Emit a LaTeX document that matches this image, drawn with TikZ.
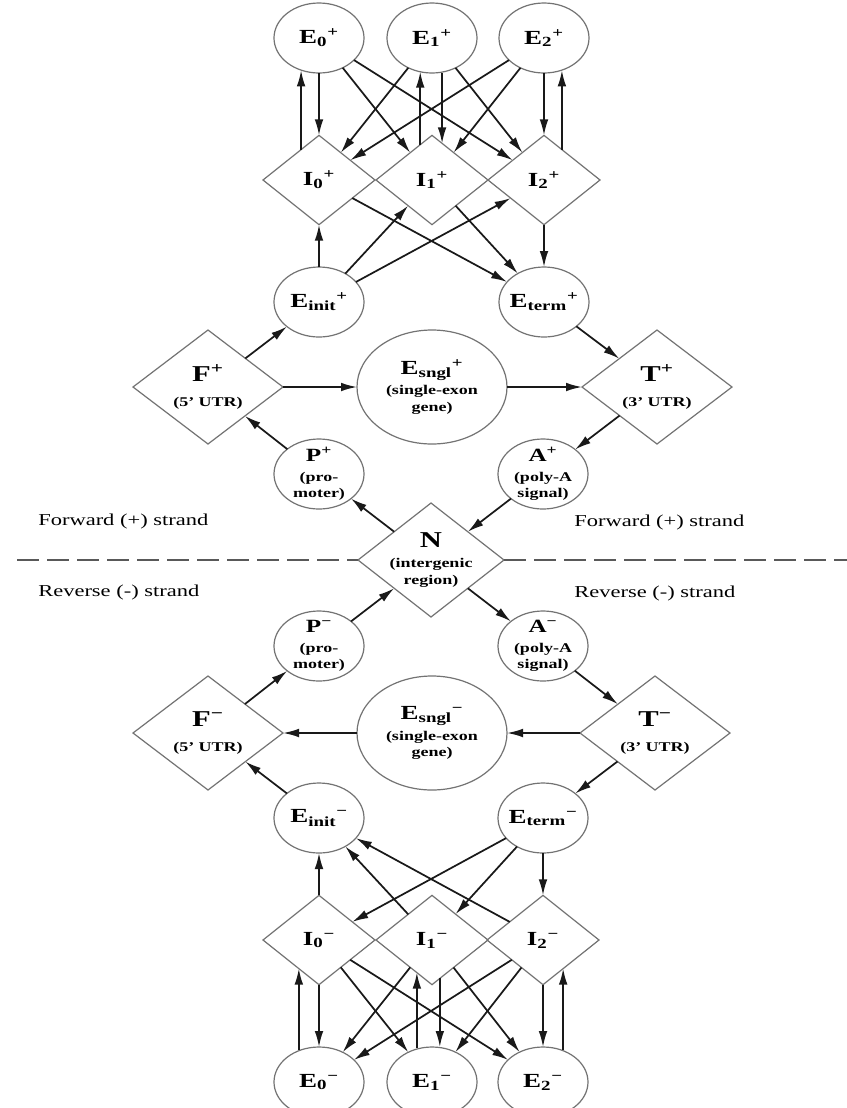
\documentclass[tikz,border=0pt]{standalone}
\usepackage{fontspec}
\setmainfont[FakeStretch=1.35]{Liberation Serif}
\usetikzlibrary{shapes.geometric,arrows.meta,calc}
\newcommand\mn{\textsuperscript{−}}
\newcommand\pl{\textsuperscript{+}}
\newcommand\hd[1]{{\fontsize{15}{15}\selectfont #1}}
\newcommand\hdb[1]{{\fontsize{17}{17}\selectfont #1}}
\newcommand\hdp[1]{{\fontsize{14}{14}\selectfont #1}}
\begin{document}
\begin{tikzpicture}[x=0.75pt,y=-0.75pt,
  shp/.style={draw=black!55, line width=0.9pt, inner sep=0pt, outer sep=0pt},
  enode/.style={shp, ellipse, minimum width=67.5pt, minimum height=52.5pt},
  inode/.style={shp, diamond, minimum width=84pt, minimum height=67pt},
  utrnode/.style={shp, diamond, minimum width=112.5pt, minimum height=85.5pt},
  nnode/.style={shp, diamond, minimum width=109.5pt, minimum height=85.5pt},
  snode/.style={shp, ellipse, minimum width=112.5pt, minimum height=85.5pt},
  lbl/.style={align=center, inner sep=0pt, font=\fontsize{10}{12.5}\selectfont\bfseries},
  arr/.style={-{Latex[length=12pt,width=6.5pt]}, line width=1.3pt, black!90},
  strand/.style={anchor=west, inner sep=0pt, font=\fontsize{12.5}{14}\selectfont},
  dline/.style={draw=black!65, line width=0.8pt, dash pattern=on 16.5pt off 6pt}
]
\useasboundingbox (0,0) rectangle (847,1108);
\fill[white] (0,0) rectangle (847,1108);
\clip (0,0) rectangle (847,1108);

% ---------- forward strand ----------
\node[enode] (E0p) at (319,38) {};
\node[enode] (E1p) at (432,38) {};
\node[enode] (E2p) at (544,38) {};
\node[inode] (I0p) at (319,180) {};
\node[inode] (I1p) at (432,180) {};
\node[inode] (I2p) at (544,180) {};
\node[enode] (Einitp) at (319,302) {};
\node[enode] (Etermp) at (544,302) {};
\node[utrnode] (Fp) at (208,387) {};
\node[snode] (Sp) at (432,387) {};
\node[utrnode] (Tp) at (657,387) {};
\node[enode] (Pp) at (319,474) {};
\node[enode] (Ap) at (543,474) {};
\node[nnode] (N) at (431,560) {};

% ---------- reverse strand ----------
\node[enode] (Pm) at (319,646) {};
\node[enode] (Am) at (543,646) {};
\node[utrnode] (Fm) at (208,733) {};
\node[snode] (Sm) at (432,733) {};
\node[utrnode] (Tm) at (655,733) {};
\node[enode] (Einitm) at (319,818) {};
\node[enode] (Etermm) at (543,818) {};
\node[inode] (I0m) at (319,940) {};
\node[inode] (I1m) at (432,940) {};
\node[inode] (I2m) at (543,940) {};
\node[enode] (E0m) at (319,1082) {};
\node[enode] (E1m) at (432,1082) {};
\node[enode] (E2m) at (543,1082) {};

% ---------- labels ----------
\node[lbl] (E0pt) at (E0p) {\hd{E\textsubscript{0}\pl}};
\node[lbl] (E1pt) at (E1p) {\hd{E\textsubscript{1}\pl}};
\node[lbl] (E2pt) at (E2p) {\hd{E\textsubscript{2}\pl}};
\node[lbl] (I0pt) at (I0p) {\hd{I\textsubscript{0}\pl}};
\node[lbl] (I1pt) at (I1p) {\hd{I\textsubscript{1}\pl}};
\node[lbl] (I2pt) at (I2p) {\hd{I\textsubscript{2}\pl}};
\node[lbl] (Einitpt) at (Einitp) {\hd{E\textsubscript{init}\pl}};
\node[lbl] (Etermpt) at (Etermp) {\hd{E\textsubscript{term}\pl}};
\node[lbl] (Fpt) at (Fp) {\hdb{F\pl}\\[6pt](5' UTR)};
\node[lbl] (Tpt) at (Tp) {\hdb{T\pl}\\[6pt](3' UTR)};
\node[lbl] (Spt) at (Sp) {\hd{E\textsubscript{sngl}\pl}\\[3pt](single-exon\\gene)};
\node[lbl] (Ppt) at (Pp) {\hdp{P\pl}\\[2pt](pro-\\moter)};
\node[lbl] (Apt) at (Ap) {\hdp{A\pl}\\[2pt](poly-A\\signal)};
\node[lbl] (Nt) at (N) {\hdb{N}\\[3pt](intergenic\\region)};
\node[lbl] (Pmt) at (Pm) {\hdp{P\mn}\\[2pt](pro-\\moter)};
\node[lbl] (Amt) at (Am) {\hdp{A\mn}\\[2pt](poly-A\\signal)};
\node[lbl] (Fmt) at (Fm) {\hdb{F\mn}\\[6pt](5' UTR)};
\node[lbl] (Tmt) at (Tm) {\hdb{T\mn}\\[6pt](3' UTR)};
\node[lbl] (Smt) at (Sm) {\hd{E\textsubscript{sngl}\mn}\\[3pt](single-exon\\gene)};
\node[lbl] (Einitmt) at (Einitm) {\hd{E\textsubscript{init}\mn}};
\node[lbl] (Etermmt) at (Etermm) {\hd{E\textsubscript{term}\mn}};
\node[lbl] (I0mt) at (I0m) {\hd{I\textsubscript{0}\mn}};
\node[lbl] (I1mt) at (I1m) {\hd{I\textsubscript{1}\mn}};
\node[lbl] (I2mt) at (I2m) {\hd{I\textsubscript{2}\mn}};
\node[lbl] (E0mt) at (E0m) {\hd{E\textsubscript{0}\mn}};
\node[lbl] (E1mt) at (E1m) {\hd{E\textsubscript{1}\mn}};
\node[lbl] (E2mt) at (E2m) {\hd{E\textsubscript{2}\mn}};

% strand labels
\node[strand] (fwl) at (38,521) {Forward (+) strand};
\node[strand] (fwr) at (574,522) {Forward (+) strand};
\node[strand] (rvl) at (38,592) {Reverse (-) strand};
\node[strand] (rvr) at (574,593) {Reverse (-) strand};

% dashed separator
\coordinate (dl) at (17,560);
\coordinate (dr) at (847,560);
\draw[dline] (dl) -- (N.west);
\draw[dline] (N.east) -- (dr);

% ---------- forward connectors ----------
\draw[arr] (E0p) -- (I0p);
\coordinate (u0p) at ($(I0p.north)!0.32!(I0p.west)$);
\draw[arr, shorten >=-2pt] (u0p) -- (u0p |- E0p.south);
\coordinate (d1p) at ($(I1p.north)!0.18!(I1p.east)$);
\draw[arr] (d1p |- E1p.south) -- (d1p);
\coordinate (u1p) at ($(I1p.north)!0.21!(I1p.west)$);
\draw[arr, shorten >=-1pt] (u1p) -- (u1p |- E1p.south);
\draw[arr] (E2p) -- (I2p);
\coordinate (u2p) at ($(I2p.north)!0.32!(I2p.east)$);
\draw[arr, shorten >=-2pt] (u2p) -- (u2p |- E2p.south);
\foreach \a/\b in {E0p/I1p, E0p/I2p, E1p/I0p, E1p/I2p, E2p/I0p, E2p/I1p}
  \draw[arr] (\a) -- (\b);
\foreach \b in {I0p, I1p, I2p}
  \draw[arr] (Einitp) -- (\b);
\foreach \a in {I0p, I1p, I2p}
  \draw[arr] (\a) -- (Etermp);
\draw[arr] (Fp) -- (Einitp);
\draw[arr] (Fp) -- (Sp);
\draw[arr] (Sp) -- (Tp);
\draw[arr] (Etermp) -- (Tp);
\draw[arr] (Tp) -- (Ap);
\draw[arr] (Ap) -- (N);
\draw[arr] (N) -- (Pp);
\draw[arr] (Pp) -- (Fp);

% ---------- reverse connectors ----------
\draw[arr] (Pm) -- (N);
\draw[arr] (N) -- (Am);
\draw[arr] (Am) -- (Tm);
\draw[arr] (Tm) -- (Sm);
\draw[arr] (Sm) -- (Fm);
\draw[arr] (Tm) -- (Etermm);
\draw[arr] (Einitm) -- (Fm);
\draw[arr] (Fm) -- (Pm);
\foreach \a in {I0m, I1m, I2m}
  \draw[arr] (\a) -- (Einitm);
\foreach \b in {I0m, I1m, I2m}
  \draw[arr] (Etermm) -- (\b);
\draw[arr] (I0m) -- (E0m);
\coordinate (d1m) at ($(I1m.south)!0.14!(I1m.east)$);
\draw[arr] (d1m) -- (d1m |- E1m.north);
\draw[arr] (I2m) -- (E2m);
\coordinate (u0m) at ($(I0m.south)!0.36!(I0m.west)$);
\draw[arr] ([yshift=-2pt]u0m |- E0m.north) -- (u0m);
\coordinate (u1m) at ($(I1m.south)!0.27!(I1m.west)$);
\draw[arr] ([yshift=-1pt]u1m |- E1m.north) -- (u1m);
\coordinate (u2m) at ($(I2m.south)!0.36!(I2m.east)$);
\draw[arr] ([yshift=-2pt]u2m |- E2m.north) -- (u2m);
\foreach \a/\b in {I0m/E1m, I0m/E2m, I1m/E0m, I1m/E2m, I2m/E0m, I2m/E1m}
  \draw[arr] (\a) -- (\b);
\end{tikzpicture}
\end{document}
